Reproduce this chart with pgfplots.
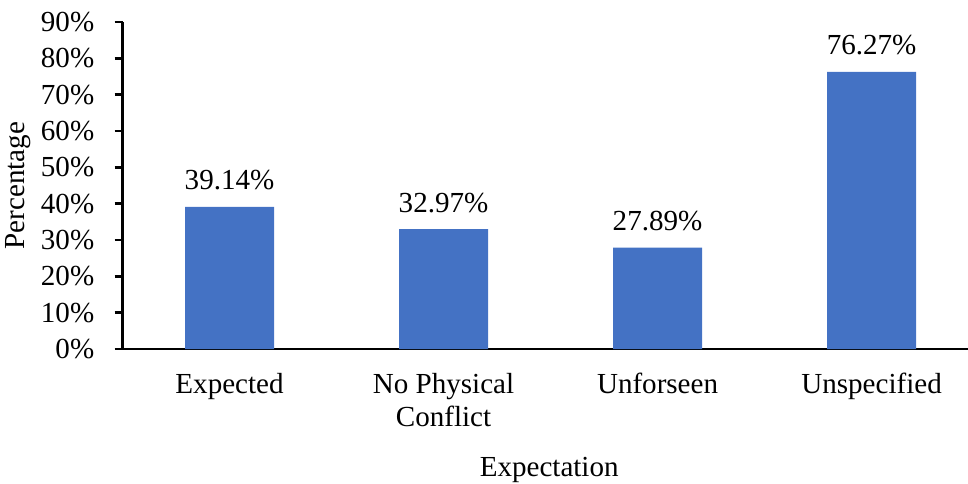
\documentclass[border=0pt]{standalone}
\usepackage{pgfplots}
\pgfplotsset{compat=1.18}
\usepackage{fontspec}
\setmainfont{Liberation Serif}
\definecolor{barblue}{RGB}{68,114,196}
\newcommand{\chartfont}{\fontsize{21.8pt}{25pt}\selectfont}

\begin{document}
\chartfont
\begin{tikzpicture}[x=1pt,y=1pt,font=\chartfont]
\useasboundingbox (0,0) rectangle (726,362.25);
\begin{axis}[
  at={(91.9pt,100.5pt)}, anchor=south west,
  scale only axis,
  width=634pt, height=245.25pt,
  /pgf/number format/assume math mode=true,
  every tick label/.append style={font=\chartfont},
  every axis label/.append style={font=\chartfont},
  ymin=0, ymax=90,
  xmin=-0.5, xmax=3.45,
  axis x line=bottom, axis y line=left,
  axis line style={line width=2pt, -},
  ytick={0,10,...,90},
  yticklabel={\pgfmathprintnumber{\tick}\%},
  ytick style={line width=2pt, black},
  tick align=outside,
  major tick length=6pt,
  x tick style={draw=none},
  xtick={0,1,2,3},
  xticklabels={Expected, {No Physical\\Conflict}, Unforseen, Unspecified},
  xticklabel style={align=center, yshift=-4.5pt},
  yticklabel style={xshift=-7.75pt},
  ylabel={Percentage},
  ylabel style={at={([xshift=-78pt]axis description cs:0,0.5)}, anchor=center},
  xlabel={Expectation},
  xlabel style={at={([yshift=-90.75pt,xshift=3pt]axis description cs:0.5,0)}, anchor=center},
  ybar, bar width=0.416,
  nodes near coords={\pgfmathprintnumber[fixed,fixed zerofill,precision=2]{\pgfplotspointmeta}\%},
  nodes near coords style={anchor=south, yshift=5pt, font=\chartfont},
  clip=false,
]
\addplot[fill=barblue, draw=none] coordinates {
  (0,39.14) (1,32.97) (2,27.89) (3,76.27)
};
\end{axis}
\end{tikzpicture}
\end{document}
